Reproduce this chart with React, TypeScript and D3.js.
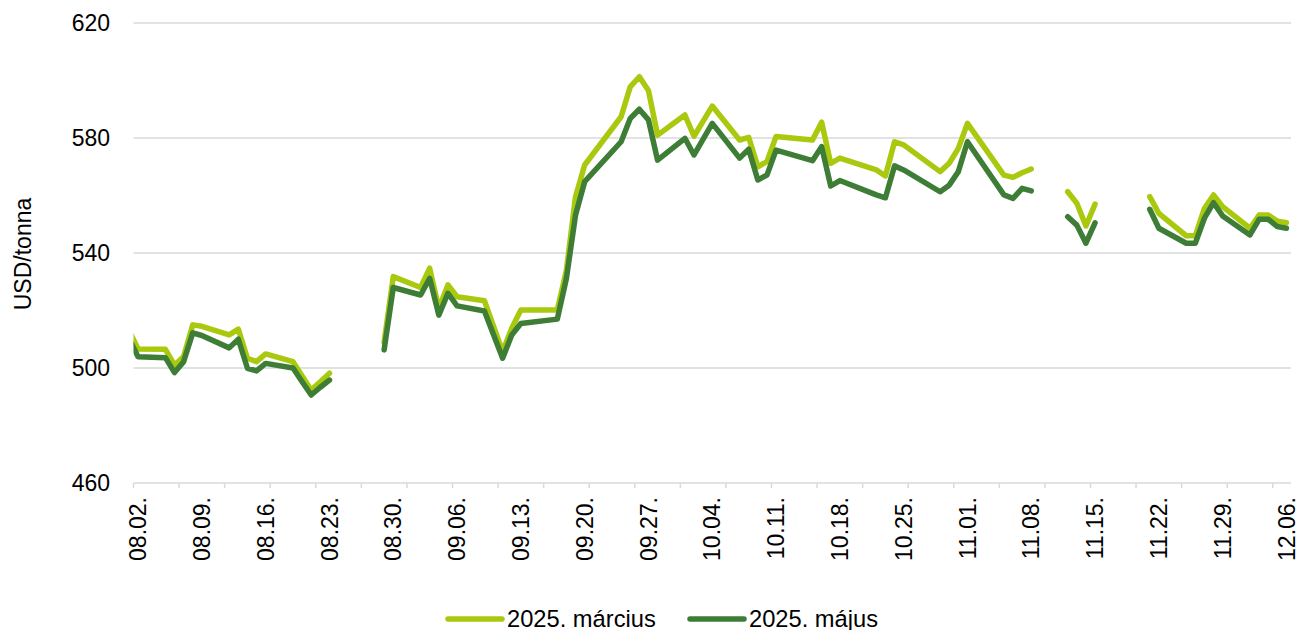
import React from 'react';
import * as d3 from 'd3';

// trading days (utc), null = gap in the series
const dates = [
  '2024-08-01', '2024-08-02', '2024-08-05', '2024-08-06', '2024-08-07', '2024-08-08', '2024-08-09',
  '2024-08-12', '2024-08-13', '2024-08-14', '2024-08-15', '2024-08-16',
  '2024-08-19', '2024-08-20', '2024-08-21', '2024-08-22', '2024-08-23',
  '2024-08-26',
  '2024-08-29', '2024-08-30', '2024-09-02', '2024-09-03', '2024-09-04', '2024-09-05', '2024-09-06',
  '2024-09-09', '2024-09-11', '2024-09-12', '2024-09-13', '2024-09-17', '2024-09-18', '2024-09-19',
  '2024-09-20', '2024-09-24', '2024-09-25', '2024-09-26', '2024-09-27', '2024-09-28',
  '2024-10-01', '2024-10-02', '2024-10-04', '2024-10-07', '2024-10-08', '2024-10-09', '2024-10-10',
  '2024-10-11', '2024-10-15', '2024-10-16', '2024-10-17', '2024-10-18', '2024-10-22', '2024-10-23',
  '2024-10-24', '2024-10-25', '2024-10-29', '2024-10-30', '2024-10-31', '2024-11-01',
  '2024-11-05', '2024-11-06', '2024-11-07', '2024-11-08',
  '2024-11-10',
  '2024-11-12', '2024-11-13', '2024-11-14', '2024-11-15',
  '2024-11-18',
  '2024-11-21', '2024-11-22', '2024-11-25', '2024-11-26', '2024-11-27', '2024-11-28', '2024-11-29',
  '2024-12-02', '2024-12-03', '2024-12-04', '2024-12-05', '2024-12-06',
];

const marcius = [
  513.2, 506.6, 506.5, 501.0, 504.0, 515.0, 514.5,
  511.5, 513.5, 503.4, 502.2, 504.9,
  502.2, 497.2, 492.3, 495.2, 498.2,
  null,
  509.0, 531.8, 528.0, 534.7, 520.7, 528.9, 524.8,
  523.4, 505.7, 513.8, 520.2, 520.2, 534.0, 559.6,
  570.6, 587.4, 597.8, 601.3, 596.5, 581.0,
  588.0, 580.6, 591.1, 579.3, 580.2, 570.0, 571.8,
  580.5, 579.3, 585.5, 571.2, 573.0, 568.9, 566.8,
  578.7, 577.6, 568.3, 571.2, 576.4, 585.1,
  567.1, 566.3, 567.9, 569.2,
  null,
  561.3, 557.3, 549.4, 557.0,
  null,
  559.6, 553.8, 546.0, 546.0, 555.5, 560.2, 556.1,
  548.6, 553.2, 553.2, 551.1, 550.5,
];

const majus = [
  510.3, 503.9, 503.6, 498.4, 502.2, 512.2, 511.3,
  507.0, 510.0, 499.9, 499.0, 501.6,
  500.0, 495.2, 490.6, 493.3, 495.8,
  null,
  506.3, 528.0, 525.4, 531.2, 518.4, 526.0, 521.6,
  519.8, 503.4, 511.5, 515.5, 517.0, 531.2, 553.2,
  564.8, 578.7, 586.8, 590.0, 586.3, 572.3,
  579.9, 574.1, 585.1, 573.0, 576.1, 565.4, 567.1,
  575.8, 572.1, 577.0, 563.3, 565.2, 560.2, 559.2,
  570.3, 568.9, 561.3, 563.6, 568.3, 578.7,
  560.2, 559.0, 562.5, 561.6,
  null,
  552.6, 549.7, 543.4, 550.5,
  null,
  555.2, 548.6, 543.4, 543.4, 552.1, 557.5, 552.9,
  546.3, 551.7, 551.7, 549.2, 548.6,
];

const seriesNames = ['2025. március', '2025. május'];
const seriesColors = ['#A9C90E', '#3E7D36'];
const yTicks = [460, 500, 540, 580, 620];
const axisStart = '2024-08-02';
const axisEnd = '2024-12-06';

const W = 1300;
const H = 630;
const left = 133.5;
const right = 1291;
const top = 23;
const bottom = 483;
const font = '"Liberation Sans", Arial, sans-serif';
const grid = '#D9D9D9';

const parse = d3.utcParse('%Y-%m-%d');
const fmt = d3.utcFormat('%m.%d.');

export default function App() {
  const first = parse(axisStart) as Date;
  const last = parse(axisEnd) as Date;

  // category style axis: each day is a slot, dates sit in the middle
  const x = d3.scaleUtc()
    .domain([d3.utcHour.offset(first, -12), d3.utcHour.offset(last, 12)])
    .range([left, right]);
  const y = d3.scaleLinear().domain([460, 620]).range([bottom, top]);

  const labelDays = d3.utcDay.range(first, d3.utcDay.offset(last, 1), 7);
  const tickDays = d3.utcDay.range(first, d3.utcDay.offset(last, 1), 5)
    .map(d => d3.utcHour.offset(d, -12));

  const rows = dates.map(s => parse(s) as Date);
  const series = [marcius, majus].map(vals =>
    rows.map((d, i) => ({ d, v: vals[i] as number | null })));

  const line = d3.line<{ d: Date; v: number | null }>()
    .defined(p => p.v != null)
    .x(p => x(p.d))
    .y(p => y(p.v as number));

  const legendX = [448, 690];

  return (
    <svg width={W} height={H} style={{ position: 'absolute', left: 0, top: 0 }}
      fontFamily={font}>
      <rect width={W} height={H} fill="#fff" />
      <defs>
        <clipPath id="plot">
          <rect x={left} y={0} width={right - left} height={H} />
        </clipPath>
      </defs>

      {yTicks.slice(1).map(t => (
        <line key={t} x1={left} x2={right} y1={y(t)} y2={y(t)} stroke={grid} strokeWidth={1.3} />
      ))}
      <line x1={left} x2={right} y1={bottom} y2={bottom} stroke={grid} strokeWidth={1.5} />
      {tickDays.map((d, i) => (
        <line key={i} x1={x(d)} x2={x(d)} y1={bottom} y2={bottom + 5} stroke={grid} strokeWidth={1.5} />
      ))}

      {yTicks.map(t => (
        <text key={t} x={110} y={y(t)} dy="0.35em" textAnchor="end" fontSize={23} fill="#000">{t}</text>
      ))}
      <text transform="translate(22.5,254) rotate(-90)" dy="0.35em" textAnchor="middle"
        fontSize={23} fill="#000">USD/tonna</text>

      {labelDays.map((d, i) => (
        <text key={i} transform={`translate(${x(d)},497) rotate(-90)`} dy="0.35em"
          textAnchor="end" fontSize={23} fill="#000">{fmt(d)}</text>
      ))}

      <g clipPath="url(#plot)">
        {series.map((s, i) => (
          <path key={i} d={line(s) || ''} fill="none" stroke={seriesColors[i]}
            strokeWidth={5.5} strokeLinejoin="round" strokeLinecap="round" />
        ))}
      </g>

      {seriesNames.map((n, i) => (
        <g key={n}>
          <line x1={legendX[i]} x2={legendX[i] + 54} y1={619} y2={619}
            stroke={seriesColors[i]} strokeWidth={5.5} strokeLinecap="round" />
          <text x={legendX[i] + 59} y={619} dy="0.35em" fontSize={23.7} fill="#000">{n}</text>
        </g>
      ))}
    </svg>
  );
}
